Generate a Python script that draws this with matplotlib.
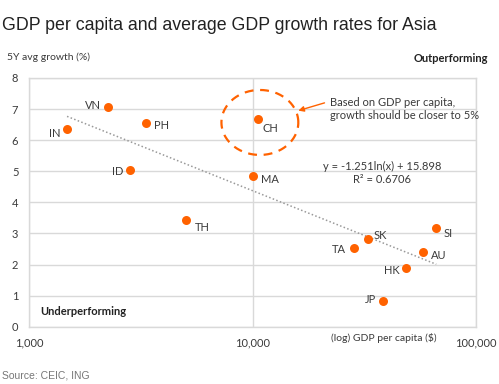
import numpy as np
import matplotlib
matplotlib.use("Agg")
import matplotlib.pyplot as plt
from matplotlib.ticker import FixedLocator, NullLocator

plt.rcParams['font.family'] = ['Lato', 'DejaVu Sans']

countries = ["VN", "IN", "PH", "ID", "TH", "CH", "MA", "SI", "SK", "TA", "AU", "HK", "JP"]
gdp_pc = [2250, 1480, 3340, 2830, 5050, 10590, 10060, 66400, 33000, 28400, 57700, 48400, 38300]
growth = [7.07, 6.35, 6.55, 5.03, 3.42, 6.69, 4.86, 3.18, 2.81, 2.54, 2.41, 1.89, 0.84]

trend_slope = -1.251
trend_intercept = 15.898
r_squared = 0.6706

x_ticks = [1000, 10000, 100000]
x_tick_labels = ["1,000", "10,000", "100,000"]
y_ticks = [0, 1, 2, 3, 4, 5, 6, 7, 8]

# label offsets (points) and alignment
label_style = {
    "VN": (-5, 1, "right"), "IN": (-5, -3, "right"), "PH": (6, -2, "left"),
    "ID": (-5, -1, "right"), "TH": (6, -5, "left"), "CH": (3, -7, "left"),
    "MA": (6, -3, "left"), "SI": (5, -4, "left"), "SK": (4, 3, "left"),
    "TA": (-6, -1, "right"), "AU": (6, -3, "left"), "HK": (-4, -2, "right"),
    "JP": (-5, 1, "right"),
}

ORANGE = "#FF6200"
TXT = "#3a3a3a"
GRID = "#d9d9d9"

fig = plt.figure(figsize=(4.99, 3.84), dpi=100)
ax = fig.add_axes([29/499, 1-326.7/384, (476-29)/499, (326.7-78)/384])

ax.set_xscale("log")
ax.set_xlim(1000, 100000)
ax.set_ylim(0, 8)
ax.xaxis.set_major_locator(FixedLocator(x_ticks))
ax.xaxis.set_minor_locator(NullLocator())
ax.set_xticklabels(x_tick_labels)
ax.set_yticks(y_ticks)
ax.tick_params(length=0, labelsize=8, colors=TXT, pad=8)
ax.tick_params(axis="y", pad=10)
for lbl in ax.get_yticklabels():
    lbl.set_horizontalalignment("center")
ax.grid(True, color=GRID, linewidth=1)
ax.set_axisbelow(True)
for s in ax.spines.values():
    s.set_color(GRID)
    s.set_linewidth(1)

# trend line
xt = np.geomspace(min(gdp_pc), max(gdp_pc), 100)
ax.plot(xt, trend_slope * np.log(xt) + trend_intercept, linestyle=(0, (1, 1.5)),
        color="#999999", linewidth=1.1, zorder=2)

ax.scatter(gdp_pc, growth, s=42, color=ORANGE, zorder=3, linewidths=0)
for c, x, y in zip(countries, gdp_pc, growth):
    dx, dy, ha = label_style[c]
    ax.annotate(c, (x, y), xytext=(dx, dy), textcoords="offset points",
                ha=ha, va="center", fontsize=8, color=TXT)

# dashed ellipse around China
ell_cx, ell_cy, ell_w, ell_h = 10790, 6.57, 0.172, 1.045
t = np.linspace(0, 2*np.pi, 200)
ax.plot(10**(np.log10(ell_cx) + ell_w*np.cos(t)), ell_cy + ell_h*np.sin(t),
        linestyle=(0, (4, 3)), color=ORANGE, linewidth=1.6, zorder=2)

ax.annotate("", xy=(10**(np.log10(ell_cx) + ell_w*1.0), 6.95),
            xytext=(21000, 7.2),
            arrowprops=dict(arrowstyle="-|>", color=ORANGE, lw=1.0, mutation_scale=8,
                            shrinkA=0, shrinkB=0))
ax.text(22200, 7.0, "Based on GDP per capita,\ngrowth should be closer to 5%",
        fontsize=8, color=TXT, va="center", ha="left", linespacing=1.2)
ax.text(37850, 4.94, f"y = {trend_slope}ln(x) + {trend_intercept}\nR² = {r_squared}",
        fontsize=8, color=TXT, ha="center", va="center", linespacing=1.15)

fig.text(2/499, 1-25/384, "GDP per capita and average GDP growth rates for Asia",
         fontsize=12.8, family="Liberation Sans", color="#222222", va="center", ha="left")
fig.text(7/499, 1-57/384, "5Y avg growth (%)", fontsize=7.5, color=TXT, va="center")
fig.text(488/499, 1-59/384, "Outperforming", fontsize=8, weight="bold", color="#222222",
         va="center", ha="right")
ax.text(0.025, 0.06, "Underperforming", transform=ax.transAxes, fontsize=8,
        weight="bold", color="#222222", va="center")
fig.text(384/499, 1-338/384, "(log) GDP per capita ($)", fontsize=7.5, color=TXT,
         ha="center", va="center")
fig.text(2/499, 1-376/384, "Source: CEIC, ING", fontsize=7.5, family="Liberation Sans",
         color="#777777", va="center")

fig.savefig("out.png", dpi=100)
